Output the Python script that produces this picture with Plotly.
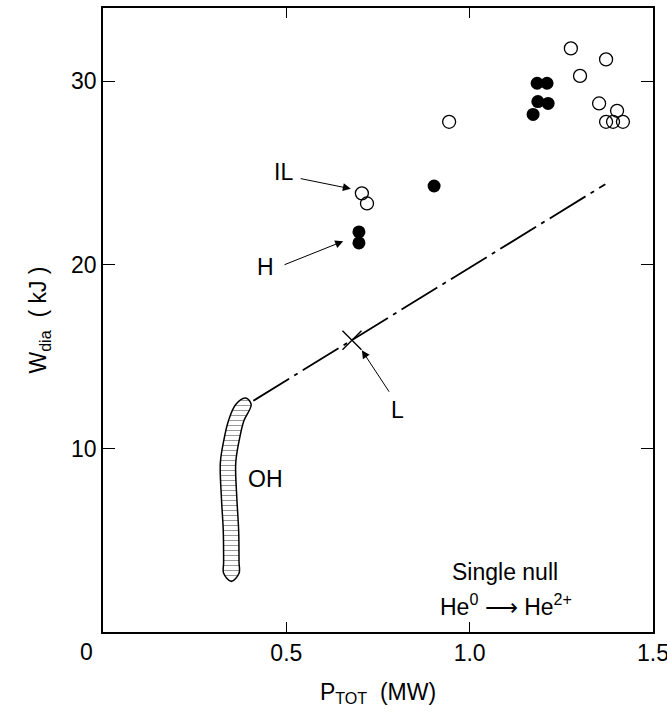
import plotly.graph_objects as go

# Open circles (IL and high-power points): P_TOT (MW), W_dia (kJ)
open_p = [0.706, 0.720, 0.944, 1.276, 1.372, 1.301, 1.353, 1.402, 1.372, 1.391, 1.418]
open_w = [23.9, 23.35, 27.8, 31.8, 31.2, 30.3, 28.8, 28.4, 27.8, 27.8, 27.8]

# Filled circles (H mode)
h_p = [0.698, 0.698, 0.903, 1.184, 1.211, 1.186, 1.214, 1.173]
h_w = [21.8, 21.2, 24.3, 29.9, 29.9, 28.9, 28.8, 28.2]

# L-mode reference line and the marked L point
l_p = [0.41, 1.37]
l_w = [12.6, 24.4]
lpt_p = [0.679]
lpt_w = [15.9]

# OH trajectory (centre of the hatched band)
oh_p = [0.350, 0.350, 0.349, 0.344, 0.341, 0.350, 0.363, 0.383]
oh_w = [3.2, 3.8, 5.5, 7.3, 9.2, 10.4, 11.5, 12.4]

x_ticks = [0.5, 1.0, 1.5]
x_ticktext = ["0.5", "1.0", "1.5"]
y_ticks = [10, 20, 30]
y_ticktext = ["10", "20", "30"]

FONT = "Liberation Sans"
half = 0.021  # half width of the OH band in MW

# closed outline of the OH band: left edge upward, right edge downward
band_x = ([p - half for p in oh_p] + [oh_p[-1] + 0.006]
          + [p + half for p in reversed(oh_p)] + [oh_p[0]])
band_y = list(oh_w) + [oh_w[-1] + 0.35] + list(reversed(oh_w)) + [oh_w[0] - 0.45]
band_x.append(band_x[0])
band_y.append(band_y[0])

fig = go.Figure()

fig.add_trace(go.Scatter(
    x=band_x, y=band_y, mode="lines", fill="toself",
    line=dict(color="black", width=1.5, shape="spline", smoothing=1.0),
    fillcolor="white",
    fillpattern=dict(shape="-", fgcolor="#333333", bgcolor="white", size=5, solidity=0.2),
    hoverinfo="skip", showlegend=False,
))

fig.add_trace(go.Scatter(
    x=l_p, y=l_w, mode="lines",
    line=dict(color="black", width=1.8, dash="42px,6px,4px,6px"),
    showlegend=False,
))

fig.add_trace(go.Scatter(
    x=lpt_p, y=lpt_w, mode="markers",
    marker=dict(symbol="x-thin", size=19, line=dict(color="black", width=1.4)),
    showlegend=False,
))

fig.add_trace(go.Scatter(
    x=open_p, y=open_w, mode="markers",
    marker=dict(symbol="circle-open", size=13, color="black", line=dict(width=1.3)),
    showlegend=False,
))

fig.add_trace(go.Scatter(
    x=h_p, y=h_w, mode="markers",
    marker=dict(symbol="circle", size=13, color="black"),
    showlegend=False,
))

txt = dict(family=FONT, size=23, color="black")

# labels
labels = [
    ("IL", 0.491, 25.04),
    ("H", 0.442, 19.9),
    ("L", 0.804, 12.08),
    ("OH", 0.443, 8.33),
]
for t, x, y in labels:
    fig.add_annotation(x=x, y=y, text=t, showarrow=False, font=txt)

# arrows: (tail x, tail y, tip x, tip y)
arrows = [
    (0.535, 24.72, 0.676, 24.15),
    (0.491, 19.98, 0.655, 21.29),
    (0.783, 13.01, 0.706, 15.35),
]
for ax, ay, x, y in arrows:
    fig.add_annotation(x=x, y=y, ax=ax, ay=ay, axref="x", ayref="y", text="",
                       showarrow=True, arrowhead=2, arrowsize=1.6, arrowwidth=1,
                       arrowcolor="black")

fig.add_annotation(x=1.095, y=3.27, text="Single null", showarrow=False, font=txt)
fig.add_annotation(x=1.100, y=1.45, text="He<sup>0</sup> \u27f6 He<sup>2+</sup>",
                   showarrow=False, font=txt)

# shared origin label
fig.add_annotation(x=0, y=0, text="0", showarrow=False, font=txt,
                   xanchor="right", yanchor="top", xshift=-8, yshift=-5)

axis_common = dict(
    showline=True, linecolor="black", linewidth=1.6, mirror="ticks",
    ticks="inside", tickcolor="black", tickwidth=1.2,
    showgrid=False, zeroline=False, tickfont=txt, automargin=False,
)

fig.update_xaxes(range=[0, 1.5], tickvals=x_ticks, ticktext=x_ticktext, ticklen=10,
                 ticklabeloverflow="allow",
                 title=dict(text="P<sub>TOT</sub>  (MW)", font=txt, standoff=18),
                 **axis_common)
fig.update_yaxes(range=[0, 34], tickvals=y_ticks, ticktext=y_ticktext, ticklen=12,
                 title=dict(text="W<sub>dia</sub>  ( kJ )", font=txt, standoff=18),
                 **axis_common)

fig.update_layout(
    width=667, height=720,
    margin=dict(l=103, r=14, t=8, b=88),
    plot_bgcolor="white", paper_bgcolor="white",
    font=dict(family=FONT),
)

fig.write_html("out.html")
